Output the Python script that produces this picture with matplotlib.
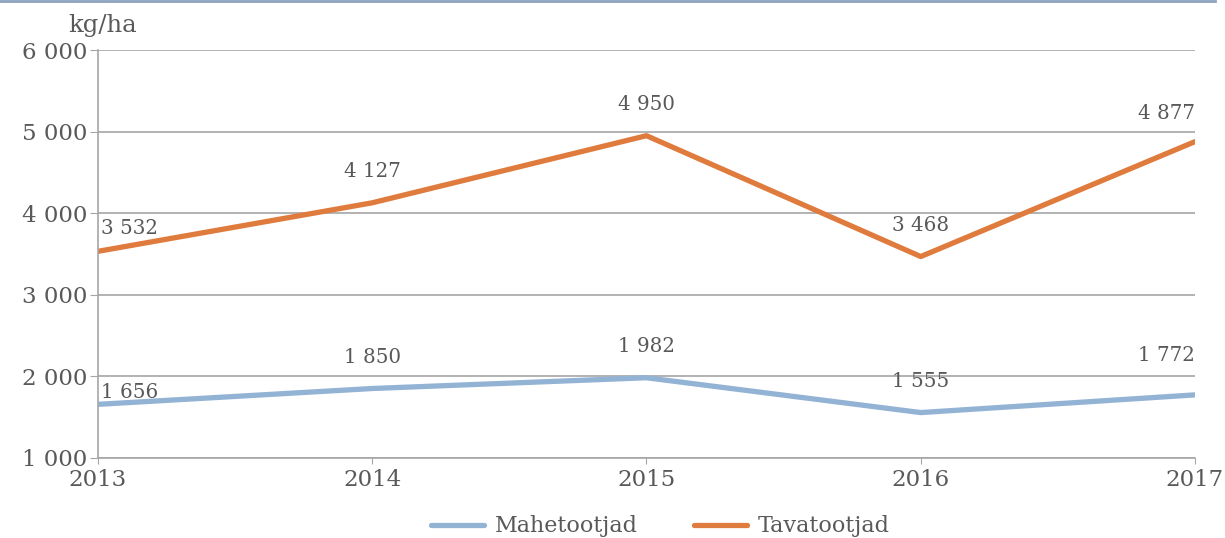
import matplotlib.pyplot as plt
from matplotlib.lines import Line2D
from matplotlib.ticker import FuncFormatter

aastad = [2013, 2014, 2015, 2016, 2017]
mahetootjad = [1656, 1850, 1982, 1555, 1772]
tavatootjad = [3532, 4127, 4950, 3468, 4877]

hall = "#595959"
plt.rcParams["font.family"] = ["DejaVu Serif"]


def tuhanded(v, pos=None):
    return f"{int(v):,}".replace(",", " ")


fig = plt.figure(figsize=(12.25, 5.38), dpi=100)
ax = fig.add_axes([0.08, 0.149, 0.8955, 0.758])

ax.plot(aastad, mahetootjad, color="#93B3D5", lw=3.8, solid_capstyle="round", label="Mahetootjad")
ax.plot(aastad, tavatootjad, color="#E07B3E", lw=3.8, solid_capstyle="round", label="Tavatootjad")

ax.set_xlim(2013, 2017)
ax.set_ylim(1000, 6000)
ax.set_xticks(aastad)
ax.set_yticks(range(1000, 6001, 1000))
ax.yaxis.set_major_formatter(FuncFormatter(tuhanded))
ax.grid(axis="y", color="#a6a6a6", lw=1.2)
ax.set_axisbelow(True)

for s in ["top", "right"]:
    ax.spines[s].set_visible(False)
for s in ["left", "bottom"]:
    ax.spines[s].set_color("#a6a6a6")
    ax.spines[s].set_linewidth(1.2)
ax.tick_params(axis="y", length=6, color="#a6a6a6", labelsize=16.5, labelcolor=hall, pad=2)
ax.tick_params(axis="x", length=4, color="#a6a6a6", labelsize=16.5, labelcolor=hall, pad=4)

# andmesildid: (esimese ja viimase sildi nihe punktides)
nihked = {"mahe": (8.5, 28), "tava": (16.5, 20)}
for nimi, seeria in [("mahe", mahetootjad), ("tava", tavatootjad)]:
    esimene, viimane = nihked[nimi]
    for i, (x, y) in enumerate(zip(aastad, seeria)):
        if i == 0:
            ha, dx, dy = "left", 2, esimene
        elif i == len(aastad) - 1:
            ha, dx, dy = "right", 0, viimane
        else:
            ha, dx, dy = "center", 0, 22.5
        ax.annotate(tuhanded(y), (x, y), xytext=(dx, dy), textcoords="offset points",
                    ha=ha, va="center", fontsize=14.3, color=hall)

fig.text(0.056, 0.953, "kg/ha", fontsize=17.5, color=hall, va="center")

fig.legend(loc="lower center", bbox_to_anchor=(0.539, -0.036), ncol=2, frameon=False,
           fontsize=16, labelcolor=hall, handlelength=2.4, handletextpad=0.5, columnspacing=2.5)

fig.add_artist(Line2D([0, 0.992], [0.998, 0.998], transform=fig.transFigure, color="#8da2bd", lw=2))

fig.savefig("out.png", dpi=100)
